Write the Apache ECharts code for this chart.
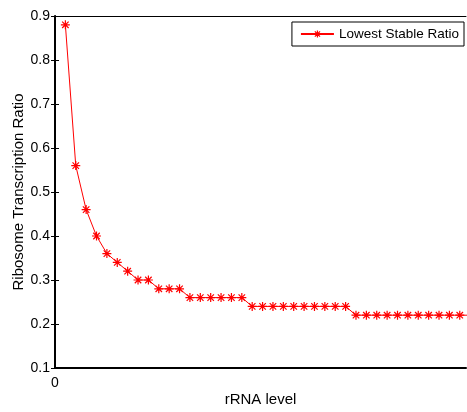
<!DOCTYPE html>
<html>
<head>
<meta charset="utf-8">
<script src="https://cdn.jsdelivr.net/npm/echarts@6/dist/echarts.min.js"></script>
<style>
html, body { margin: 0; padding: 0; background: #fff; }
#main { width: 467px; height: 412px; }
</style>
</head>
<body>
<div id="main"></div>
<script>
// rRNA level (x) and lowest stable ratio (y)
var rrnaLevel = [1, 2, 3, 4, 5, 6, 7, 8, 9, 10, 11, 12, 13, 14, 15, 16, 17, 18, 19, 20,
    21, 22, 23, 24, 25, 26, 27, 28, 29, 30, 31, 32, 33, 34, 35, 36, 37, 38, 39, 40];
var lowestRatio = [0.88, 0.56, 0.46, 0.40, 0.36, 0.34, 0.32, 0.30, 0.30, 0.28, 0.28, 0.28,
    0.26, 0.26, 0.26, 0.26, 0.26, 0.26,
    0.24, 0.24, 0.24, 0.24, 0.24, 0.24, 0.24, 0.24, 0.24, 0.24,
    0.22, 0.22, 0.22, 0.22, 0.22, 0.22, 0.22, 0.22, 0.22, 0.22, 0.22, 0.22];
var yTicks = [0.1, 0.2, 0.3, 0.4, 0.5, 0.6, 0.7, 0.8, 0.9];

var font = 'Liberation Sans, Arial, sans-serif';
var star = 'path://M0,-5L0,5M-5,0L5,0M-3.6,-3.6L3.6,3.6M-3.6,3.6L3.6,-3.6';
var pts = [];
for (var i = 0; i < rrnaLevel.length; i++) {
    pts.push([rrnaLevel[i], lowestRatio[i]]);
}

var myChart = echarts.init(document.getElementById('main'));
var option = {
    animation: false,
    backgroundColor: '#fff',
    grid: { left: 55, top: 16, right: 1, bottom: 44, outerBoundsMode: 'none', containLabel: false },
    legend: {
        show: true,
        right: 3,
        top: 22,
        orient: 'vertical',
        borderColor: '#000',
        borderWidth: 1,
        padding: [5, 5, 5, 8],
        itemWidth: 33,
        itemHeight: 9,
        itemGap: 4,
        itemStyle: { color: '#ff0000', borderColor: '#ff0000', borderWidth: 1.2 },
        textStyle: { fontFamily: font, fontSize: 13.5, color: '#000' },
        data: ['Lowest Stable Ratio']
    },
    xAxis: [
        {
            type: 'value',
            min: 0,
            max: 39.6,
            interval: 50,
            name: 'rRNA level',
            nameLocation: 'middle',
            nameGap: 24,
            nameMoveOverlap: false,
            nameTextStyle: { fontFamily: font, fontSize: 15, color: '#000' },
            axisLine: { lineStyle: { color: '#000', width: 2 } },
            axisTick: { show: false },
            splitLine: { show: false },
            axisLabel: {
                fontFamily: font, fontSize: 14, color: '#000', margin: 8,
                formatter: function (v) { return v === 0 ? '0' : ''; }
            }
        },
        {
            type: 'value',
            position: 'top',
            min: 0,
            max: 39.6,
            axisLine: { lineStyle: { color: '#000', width: 1 } },
            axisTick: { show: false },
            axisLabel: { show: false },
            splitLine: { show: false }
        }
    ],
    yAxis: [
        {
            type: 'value',
            min: yTicks[0],
            max: yTicks[yTicks.length - 1],
            interval: 0.1,
            name: 'Ribosome Transcription Ratio',
            nameLocation: 'middle',
            nameGap: 29,
            nameMoveOverlap: false,
            nameTextStyle: { fontFamily: font, fontSize: 15, color: '#000' },
            axisLine: { show: true, lineStyle: { color: '#000', width: 2 } },
            axisTick: { show: true, inside: true, length: 4, lineStyle: { color: '#000' } },
            splitLine: { show: false },
            axisLabel: {
                fontFamily: font, fontSize: 14, color: '#000', margin: 5,
                formatter: function (v) { return v.toFixed(1); }
            }
        },
        {
            type: 'value',
            position: 'right',
            min: yTicks[0],
            max: yTicks[yTicks.length - 1],
            interval: 0.1,
            axisLine: { show: true, lineStyle: { color: '#000', width: 1 } },
            axisTick: { show: true, inside: true, length: 4, lineStyle: { color: '#000' } },
            axisLabel: { show: false },
            splitLine: { show: false }
        }
    ],
    series: [
        {
            name: 'Lowest Stable Ratio',
            type: 'line',
            data: pts,
            clip: true,
            symbol: star,
            symbolSize: 9,
            itemStyle: { color: '#ff0000', borderColor: '#ff0000', borderWidth: 1.2 },
            lineStyle: { color: '#ff0000', width: 1 }
        }
    ]
};
myChart.setOption(option);
</script>
</body>
</html>
